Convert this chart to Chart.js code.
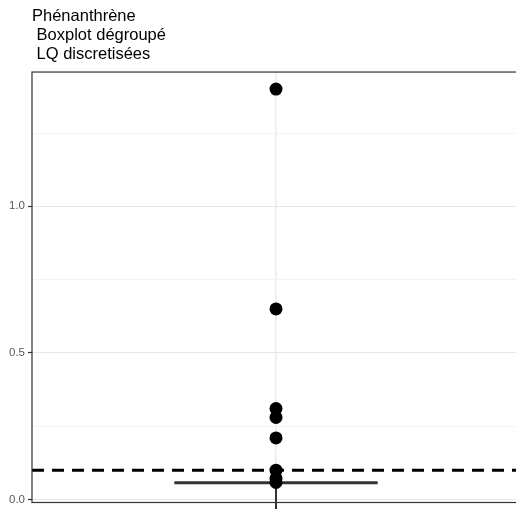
<!DOCTYPE html>
<html>
<head>
<meta charset="utf-8">
<script src="https://cdn.jsdelivr.net/npm/chart.js@4"></script>
<style>
  html, body { margin: 0; padding: 0; background: #fff; overflow: hidden; }
  #wrap { width: 516px; height: 509px; overflow: hidden; }
</style>
</head>
<body>
<div id="wrap"><canvas id="c" width="528" height="509"></canvas></div>
<script>
// title lines (ggplot-style, leading spaces kept)
const titleLines = ['Phénanthrène', ' Boxplot dégroupé', ' LQ discretisées'];

// one discrete group at position 1
const groupPos = 1;
const xRange = [0.4, 1.6];
const boxHalfWidth = 0.25;

// individual measurements (outliers / points)
const pointValues = [1.40, 0.65, 0.31, 0.28, 0.21, 0.10, 0.072, 0.058];

// box summary: q1 = median = q3, lower whisker runs off the panel
const boxMedian = 0.057;
const whiskerLow = -0.045;

// quantification limit (dashed line)
const lqValue = 0.1;

// y axis
const yMin = -0.0102;
const yMax = 1.458;
const yStep = 0.25;
const yLabelStep = 0.5;

const isMajor = v => Math.abs(v / yLabelStep - Math.round(v / yLabelStep)) < 1e-6;

const panelBorder = {
  id: 'panelBorder',
  afterDatasetsDraw(chart) {
    const { ctx, chartArea: a } = chart;
    ctx.save();
    ctx.strokeStyle = '#333333';
    ctx.lineWidth = 1.2;
    ctx.strokeRect(a.left, a.top, a.right - a.left, a.bottom - a.top);
    ctx.restore();
  }
};

Chart.defaults.font.family = "'Liberation Sans', Arial, sans-serif";

new Chart(document.getElementById('c'), {
  type: 'scatter',
  data: {
    datasets: [
      {
        label: 'points',
        data: pointValues.map(v => ({ x: groupPos, y: v })),
        backgroundColor: '#000',
        borderColor: '#000',
        pointRadius: 6.5,
        pointHoverRadius: 6.5,
        borderWidth: 0,
        order: 1
      },
      {
        label: 'LQ',
        type: 'line',
        data: xRange.map(x => ({ x, y: lqValue })),
        borderColor: '#000',
        borderWidth: 3,
        borderDash: [12, 8],
        pointRadius: 0,
        order: 0
      },
      {
        label: 'median',
        type: 'line',
        data: [{ x: groupPos - boxHalfWidth, y: boxMedian }, { x: groupPos + boxHalfWidth, y: boxMedian }],
        borderColor: '#333333',
        borderWidth: 3,
        pointRadius: 0,
        order: 2
      },
      {
        label: 'whisker',
        type: 'line',
        data: [{ x: groupPos, y: boxMedian }, { x: groupPos, y: whiskerLow }],
        borderColor: '#333333',
        borderWidth: 2,
        pointRadius: 0,
        clip: false,
        order: 3
      }
    ]
  },
  options: {
    responsive: false,
    animation: false,
    devicePixelRatio: 1,
    layout: { padding: { left: 0, right: 8, top: 0, bottom: 0 } },
    plugins: {
      legend: { display: false },
      tooltip: { enabled: false },
      title: {
        display: true,
        text: titleLines,
        align: 'start',
        fullSize: false,
        color: '#000',
        font: { size: 16.5, lineHeight: 1.13, weight: 'normal' },
        padding: { top: 7.5, bottom: 8.6 }
      }
    },
    scales: {
      x: {
        type: 'linear',
        min: xRange[0],
        max: xRange[1],
        afterBuildTicks: s => { s.ticks = [{ value: groupPos }]; },
        afterFit: s => { s.height = 6; s.paddingLeft = 0; s.paddingRight = 0; },
        ticks: { display: false },
        border: { display: false },
        grid: { color: '#ebebeb', lineWidth: 1.5, drawTicks: false }
      },
      y: {
        min: yMin,
        max: yMax,
        afterFit: s => { s.width = 32; s.paddingTop = 0; s.paddingBottom = 0; },
        border: { display: false },
        grid: {
          color: c => isMajor(c.tick.value) ? '#e6e6e6' : '#f3f3f3',
          lineWidth: 1,
          tickLength: 4,
          tickColor: c => isMajor(c.tick.value) ? '#333333' : 'rgba(0,0,0,0)',
          tickWidth: 1.2
        },
        ticks: {
          stepSize: yStep,
          includeBounds: false,
          autoSkip: false,
          padding: 3,
          color: '#595959',
          font: { size: 11.5 },
          callback: v => isMajor(v) ? v.toFixed(1) : ''
        }
      }
    }
  },
  plugins: [panelBorder]
});
</script>
</body>
</html>
